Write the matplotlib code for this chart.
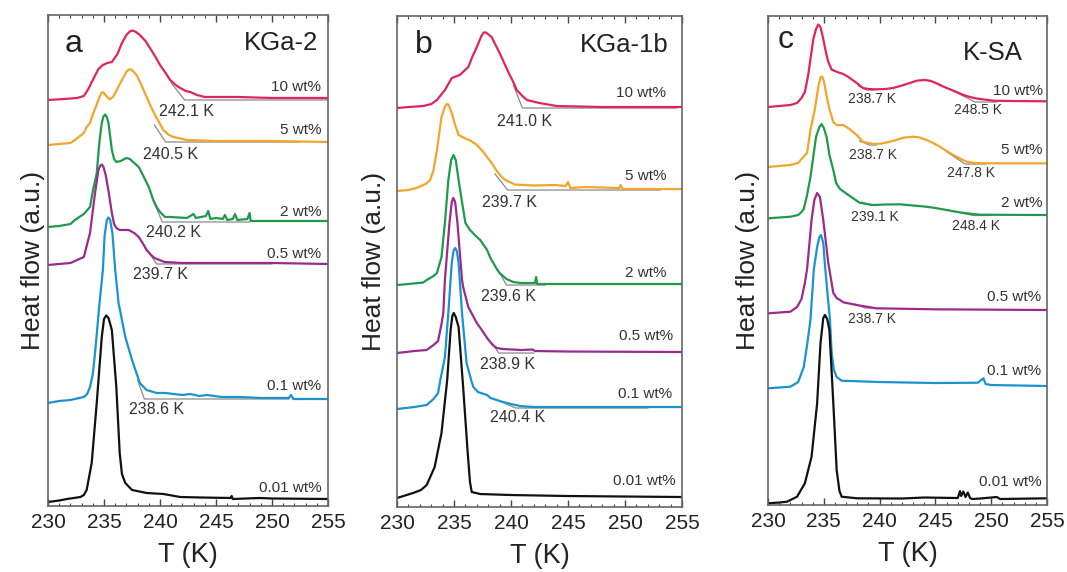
import numpy as np
import matplotlib.pyplot as plt

plt.rcParams['font.family'] = ['Liberation Sans', 'DejaVu Sans']

# colours per concentration
colors = {'10': '#e0245e', '5': '#f2a52c', '2': '#1f9a4c', '0.5': '#9b2a8c',
          '0.1': '#1b93d1', '0.01': '#111111'}
gray = '#8a8a8a'

# ---------------- panel a: KGa-2  (T [K], heat flow in arbitrary units)
a_10 = [(230.0, 406), (231.5, 407), (232.6, 408), (233.2, 410), (233.6, 417), (234.0, 426),
        (234.5, 437), (234.9, 441), (235.3, 443), (235.7, 444), (236.2, 452), (236.6, 463),
        (237.0, 471), (237.3, 474.5), (237.55, 475.5), (237.85, 474), (238.2, 471),
        (238.7, 465), (239.1, 458), (239.6, 449), (240.0, 441), (240.5, 433), (240.9, 426),
        (241.4, 421), (241.8, 418), (242.3, 415), (242.7, 414), (243.3, 411), (244.0, 409),
        (247.0, 409), (250.0, 408), (255.0, 408)]
a_5 = [(230.0, 361), (231.0, 362), (232.0, 363), (232.4, 366), (233.2, 373), (233.45, 379),
       (233.75, 383), (234.05, 393), (234.3, 400), (234.6, 409), (234.8, 413.5), (234.95, 413.5),
       (235.2, 410), (235.5, 406.5), (235.8, 409), (236.0, 413), (236.6, 426), (237.0, 434),
       (237.2, 436.5), (237.45, 436.5), (237.9, 431), (238.3, 422), (238.8, 409), (239.2, 399),
       (239.55, 391), (240.3, 376), (240.8, 371), (241.2, 369), (242.4, 366), (245.0, 365),
       (250.0, 365), (255.0, 364)]
a_2 = [(230.0, 279), (231.0, 280), (232.0, 282), (232.4, 286), (233.2, 292), (233.75, 299),
       (234.0, 315), (234.35, 333), (234.6, 365), (234.8, 383), (234.95, 389.5), (235.1, 391.5),
       (235.25, 389), (235.4, 383), (235.7, 356), (235.9, 347), (236.1, 344), (236.5, 345),
       (237.0, 348), (237.3, 347), (238.1, 339), (238.6, 328), (239.0, 319), (239.4, 306),
       (239.7, 299), (240.0, 294), (240.45, 289), (240.9, 289), (242.4, 288), (243.0, 292),
       (243.2, 288), (244.1, 290), (244.3, 295), (244.5, 287), (245.0, 288), (245.6, 287),
       (245.8, 291), (246.0, 286), (246.5, 287), (246.7, 292), (246.9, 286), (247.8, 287),
       (248.0, 293), (248.1, 285), (250.0, 285), (255.0, 285)]
a_05 = [(230.0, 241), (231.0, 242), (232.0, 243), (233.2, 249), (233.45, 260), (233.75, 273),
        (234.2, 313), (234.5, 336), (234.65, 340), (234.8, 341.5), (234.95, 339),
        (235.15, 331), (235.4, 315), (235.7, 293), (235.9, 282), (236.1, 278), (236.4, 276),
        (237.2, 276), (237.7, 273), (238.1, 269), (238.5, 262), (238.8, 256), (239.2, 251),
        (239.5, 248), (240.4, 244), (242.0, 243), (250.0, 243), (255.0, 242)]
a_01 = [(230.0, 103), (231.0, 105), (232.0, 106), (233.2, 109), (233.5, 112), (233.75, 119),
        (234.0, 132), (234.2, 153), (234.6, 203), (234.9, 236), (235.05, 270), (235.25, 286),
        (235.4, 288.5), (235.55, 286), (235.75, 273), (236.0, 236), (236.3, 203), (236.9, 169),
        (237.5, 146), (238.2, 123), (238.8, 116), (239.7, 113), (240.5, 113), (241.2, 112),
        (242.0, 111), (242.7, 112), (243.5, 110), (244.2, 111), (245.5, 109), (247.1, 109),
        (249.0, 108), (251.5, 108), (251.7, 111), (251.9, 107), (253.0, 107), (255.0, 107)]
a_001 = [(230.0, 4), (231.0, 5.5), (231.7, 7), (232.9, 9), (233.2, 11), (233.45, 16),
         (233.9, 43), (234.35, 103), (234.8, 169), (235.0, 187), (235.2, 190.5), (235.4, 188),
         (235.7, 176), (236.1, 119), (236.4, 53), (236.6, 32), (236.9, 23), (237.5, 16),
         (238.8, 13), (240.3, 12), (241.8, 9), (243.6, 8.5), (246.3, 8), (246.4, 10),
         (246.5, 7), (248.9, 8), (250.0, 7.5), (255.0, 7)]
a_tangents = [[(241.0, 423), (242.2, 406), (255.0, 406)],
              [(239.5, 381), (240.5, 364), (252.5, 364)],
              [(239.3, 308), (240.2, 284), (248.0, 284)],
              [(238.8, 257), (239.7, 242), (250.0, 242)],
              [(238.0, 126), (238.6, 107), (251.5, 107)]]
a_onsets = ['242.1 K', '240.5 K', '240.2 K', '239.7 K', '238.6 K']
a_onset_pos = [(242.4, 394), (240.9, 351), (241.2, 273), (240.0, 231), (239.7, 96)]
a_wt_pos = [(254.4, 419), (254.4, 376), (254.4, 294), (254.4, 252), (254.4, 120), (254.4, 18)]

# ---------------- panel b: KGa-1b
b_10 = [(230.0, 399), (231.0, 400), (232.3, 401), (233.0, 403), (233.5, 407), (234.2, 417),
        (234.8, 429), (235.5, 432), (236.25, 440), (236.6, 450), (237.0, 460), (237.4, 471),
        (237.6, 474.5), (237.8, 474.5), (238.3, 470), (238.6, 463), (239.0, 454), (239.4, 444),
        (239.8, 434), (240.2, 425), (240.5, 417), (241.0, 411), (241.4, 407), (242.5, 404),
        (244.0, 401), (248.0, 400), (255.0, 400)]
b_5 = [(230.0, 316), (231.0, 317), (231.7, 319), (232.5, 323), (232.9, 327), (233.2, 337),
       (233.5, 357), (233.9, 390), (234.2, 400), (234.35, 403), (234.5, 402.5), (234.6, 400),
       (234.8, 394), (235.1, 382), (235.4, 372), (236.0, 368.5), (236.5, 366), (237.0, 362),
       (237.5, 356), (237.9, 350), (238.3, 344), (238.7, 337), (239.1, 331), (239.5, 327),
       (240.35, 322.5), (241.9, 321.5), (243.9, 322), (244.8, 321), (245.0, 325), (245.2, 319),
       (246.5, 320), (249.5, 319), (249.6, 322), (249.8, 318), (255.0, 318)]
b_2 = [(230.0, 222), (231.0, 223), (232.3, 224.5), (232.6, 227), (233.2, 231), (233.5, 234),
       (233.9, 250), (234.2, 284), (234.5, 327), (234.75, 347), (234.95, 352), (235.15, 347),
       (235.4, 327), (235.7, 305), (236.0, 284), (236.4, 277), (237.0, 270), (237.3, 267),
       (237.9, 257), (238.2, 249), (238.75, 238), (239.0, 234), (239.6, 228), (240.2, 225),
       (240.9, 224), (242.1, 224), (242.2, 230), (242.3, 223), (245.0, 223), (255.0, 223)]
b_05 = [(230.0, 154), (231.5, 156), (232.6, 157), (233.2, 162), (233.6, 166), (233.9, 183),
        (234.06, 194), (234.2, 227), (234.6, 284), (234.8, 305), (234.94, 309), (235.1, 305),
        (235.3, 284), (235.7, 227), (235.8, 220), (236.25, 200), (237.0, 184), (237.5, 176),
        (237.9, 169), (238.4, 162), (238.75, 159), (239.3, 158), (240.9, 157), (241.9, 157.5),
        (242.1, 156), (245.0, 155.5), (255.0, 155)]
b_01 = [(230.0, 98), (231.5, 100), (232.6, 102), (233.2, 108), (233.6, 114), (233.8, 127),
        (234.2, 150), (234.5, 194), (234.8, 244), (234.95, 256), (235.1, 259), (235.25, 256),
        (235.4, 244), (235.7, 194), (236.1, 144), (236.55, 125), (236.7, 120), (237.1, 115),
        (237.9, 112), (238.2, 109), (239.3, 105), (240.0, 103), (240.8, 101), (242.0, 100),
        (255.0, 100)]
b_001 = [(230.0, 9), (231.4, 14), (232.1, 17), (232.6, 22), (233.3, 40), (233.9, 74),
         (234.4, 127), (234.7, 177), (234.85, 191), (234.98, 194), (235.15, 190), (235.4, 180),
         (235.8, 120), (236.2, 54), (236.4, 25), (236.55, 15), (237.3, 13), (240.0, 12),
         (245.0, 11), (255.0, 10)]
b_tangents = [[(240.2, 422), (241.0, 399), (254.5, 399)],
              [(238.6, 333), (239.7, 317), (253.1, 317)],
              [(239.0, 234), (239.6, 222), (243.0, 222)],
              [(238.4, 163), (238.9, 154), (242.0, 154)],
              [(239.0, 106), (240.4, 99), (252.0, 99)]]
b_onsets = ['241.0 K', '239.7 K', '239.6 K', '238.9 K', '240.4 K']
b_onset_pos = [(241.2, 386), (239.9, 305), (239.8, 211), (239.7, 143), (240.6, 90)]
b_wt_pos = [(253.6, 414), (253.6, 331), (253.6, 234), (254.2, 171), (254.1, 113), (254.4, 26)]

# ---------------- panel c: K-SA
c_10 = [(230.0, 398), (231.0, 399), (232.0, 400), (232.6, 402), (233.0, 407), (233.3, 413),
        (233.6, 430), (234.06, 466), (234.3, 476), (234.5, 480.5), (234.7, 478), (234.95, 466),
        (235.2, 452), (235.4, 443), (235.7, 435.5), (236.2, 433), (236.75, 431), (237.2, 428),
        (237.95, 422), (238.5, 417), (239.0, 416), (239.7, 415.7), (240.5, 416), (241.2, 417),
        (242.0, 419.5), (242.7, 422), (243.4, 424.5), (244.1, 425), (244.6, 424), (245.1, 421.7),
        (245.7, 418.5), (246.3, 415.7), (246.9, 413), (247.5, 410), (248.1, 408), (248.7, 406.5),
        (250.2, 404.3), (252.0, 404), (255.0, 403.7)]
c_5 = [(230.0, 338), (231.0, 339), (232.0, 340), (232.7, 342), (233.0, 346), (233.5, 352),
       (233.8, 375), (234.2, 396), (234.5, 418), (234.7, 427.5), (234.85, 428.5), (235.0, 424),
       (235.25, 409), (235.5, 396), (235.85, 383), (236.15, 380), (236.75, 380), (237.3, 376),
       (237.95, 370), (238.5, 363.3), (239.4, 361), (240.2, 361.5), (240.9, 363.3), (241.5, 365),
       (242.1, 367.3), (243.0, 368.3), (243.6, 367.5), (244.2, 365), (244.8, 362), (245.4, 358.3),
       (246.0, 354), (246.6, 350), (247.2, 346.5), (247.8, 343.3), (248.5, 342), (249.6, 341.7),
       (255.0, 341.7)]
c_2 = [(230.0, 286.7), (231.0, 287.5), (232.0, 288.3), (232.7, 290), (233.0, 293), (233.2, 296),
       (233.5, 310), (233.8, 328), (234.3, 368), (234.6, 378), (234.8, 381), (235.0, 377),
       (235.25, 368), (235.5, 350), (235.85, 335), (236.1, 322), (236.45, 316), (237.2, 310),
       (238.2, 302.3), (239.4, 300), (240.5, 300.5), (241.8, 300.7), (243.0, 299.5), (244.2, 298.3),
       (245.0, 297), (246.0, 295), (247.0, 293), (247.8, 291.7), (249.0, 290.3), (255.0, 290)]
c_05 = [(230.0, 191.7), (231.0, 192.5), (232.0, 193.3), (232.6, 198), (233.0, 206), (233.3, 222),
        (233.5, 236), (233.9, 285), (234.15, 305), (234.4, 312), (234.65, 308), (234.95, 285),
        (235.4, 242), (235.7, 222), (235.85, 212), (236.15, 207), (236.45, 205), (236.75, 202.7),
        (237.95, 200), (239.7, 196.7), (245.0, 195.7), (255.0, 195)]
c_01 = [(230.0, 116.7), (231.0, 117.5), (232.0, 118.3), (232.7, 123), (233.2, 138), (233.5, 160),
        (233.8, 185), (234.1, 235), (234.4, 258), (234.6, 268), (234.75, 270), (234.95, 262),
        (235.1, 240), (235.3, 215), (235.55, 185), (235.7, 152), (235.9, 135), (236.15, 128),
        (236.6, 124.3), (240.0, 123), (245.0, 122), (248.8, 122.3), (249.3, 126.7), (249.5, 121),
        (250.0, 120), (255.0, 119)]
c_001 = [(230.0, 1.7), (231.0, 2.5), (231.7, 3.3), (232.6, 8.3), (233.3, 21.7), (233.9, 48.3),
         (234.4, 101.7), (234.7, 161.7), (234.95, 187), (235.1, 190), (235.3, 186), (235.5, 175),
         (235.85, 101.7), (236.15, 35), (236.4, 14), (236.6, 8.3), (238.0, 6.7), (242.0, 6.5),
         (244.0, 7.5), (247.0, 7), (247.2, 14), (247.3, 9), (247.5, 13.5), (247.7, 8),
         (247.9, 12.5), (248.1, 7), (248.3, 6), (249.0, 6.5), (250.5, 8), (250.8, 6), (255.0, 6.7)]
c_tangents = [[(238.1, 419), (238.85, 415), (239.6, 415)],
              [(246.3, 415.7), (248.55, 403), (250.5, 403)],
              [(238.2, 364), (239.1, 360), (239.7, 360)],
              [(246.0, 353.3), (247.65, 341), (249.5, 341)],
              [(238.4, 303), (239.1, 300), (239.8, 300)],
              [(246.5, 294), (248.4, 289.5), (250.0, 289.5)],
              [(237.8, 201), (238.7, 197), (239.5, 197)]]
c_onsets = ['238.7 K', '248.5 K', '238.7 K', '247.8 K', '239.1 K', '248.4 K', '238.7 K']
c_onset_pos = [(239.3, 406), (248.8, 395), (239.4, 350), (248.2, 332), (239.6, 288), (248.6, 279),
               (239.3, 186)]
c_wt_pos = [(254.6, 414), (254.6, 355), (254.6, 302), (254.5, 208), (254.5, 134), (254.5, 23)]

wt_labels = ['10 wt%', '5 wt%', '2 wt%', '0.5 wt%', '0.1 wt%', '0.01 wt%']
keys = ['10', '5', '2', '0.5', '0.1', '0.01']

panels = [
    dict(curves=[a_10, a_5, a_2, a_05, a_01, a_001], tang=a_tangents, onsets=a_onsets,
         onset_pos=a_onset_pos, wt_pos=a_wt_pos, letter='a', name='KGa-2',
         letter_pos=(231.5, 454), name_pos=(254.1, 456), rect=[0.0450, 0.1154, 0.2624, 0.8584],
         ymax=491, onset_fs=11.5, pad=2),
    dict(curves=[b_10, b_5, b_2, b_05, b_01, b_001], tang=b_tangents, onsets=b_onsets,
         onset_pos=b_onset_pos, wt_pos=b_wt_pos, letter='b', name='KGa-1b',
         letter_pos=(231.6, 454), name_pos=(253.8, 455), rect=[0.3721, 0.1136, 0.2671, 0.8584],
         ymax=491, onset_fs=11.5, pad=8),
    dict(curves=[c_10, c_5, c_2, c_05, c_01, c_001], tang=c_tangents, onsets=c_onsets,
         onset_pos=c_onset_pos, wt_pos=c_wt_pos, letter='c', name='K-SA',
         letter_pos=(230.9, 457), name_pos=(252.85, 445), rect=[0.7198, 0.1171, 0.2615, 0.8549],
         ymax=489, onset_fs=10, pad=6),
]

fig = plt.figure(figsize=(10.67, 5.72), dpi=100)
edge = '#666666'

for p in panels:
    ax = fig.add_axes(p['rect'])
    for seg in p['tang']:
        t, h = np.array(seg).T
        ax.plot(t, h, color=gray, lw=0.9, zorder=1)
    for key, cur in zip(keys, p['curves']):
        t, h = np.array(cur).T
        ax.plot(t, h, color=colors[key], lw=1.6, zorder=2,
                solid_joinstyle='round', solid_capstyle='round')
    for txt, (x, y) in zip(wt_labels, p['wt_pos']):
        ax.text(x, y, txt, ha='right', va='center', fontsize=11, color='#333333')
    for txt, (x, y) in zip(p['onsets'], p['onset_pos']):
        ax.text(x, y, txt, ha='center', va='center', fontsize=p['onset_fs'], color='#333333')
    ax.text(*p['letter_pos'], p['letter'], fontsize=23, color='#222222', va='baseline')
    ax.text(*p['name_pos'], p['name'], fontsize=18.5, color='#222222', ha='right', va='baseline')

    ax.set_xlim(230, 255)
    ax.set_ylim(0, p['ymax'])
    ax.set_xticks(np.arange(230, 256, 5))
    ax.set_xticks(np.arange(230, 256, 1), minor=True)
    ax.set_yticks([])
    ax.tick_params(axis='x', which='both', direction='in', top=True, colors='#444444',
                   labelcolor='#222222', labelsize=15, pad=5)
    ax.tick_params(axis='x', which='major', length=5, width=1)
    ax.tick_params(axis='x', which='minor', length=2.5, width=0.8)
    for s in ax.spines.values():
        s.set_color(edge)
        s.set_linewidth(1.2)
    ax.set_xlabel('T (K)', fontsize=19.5, color='#222222', labelpad=7)
    ax.set_ylabel('Heat flow (a.u.)', fontsize=19, color='#222222', labelpad=p['pad'])

fig.savefig('out.png', dpi=100)
